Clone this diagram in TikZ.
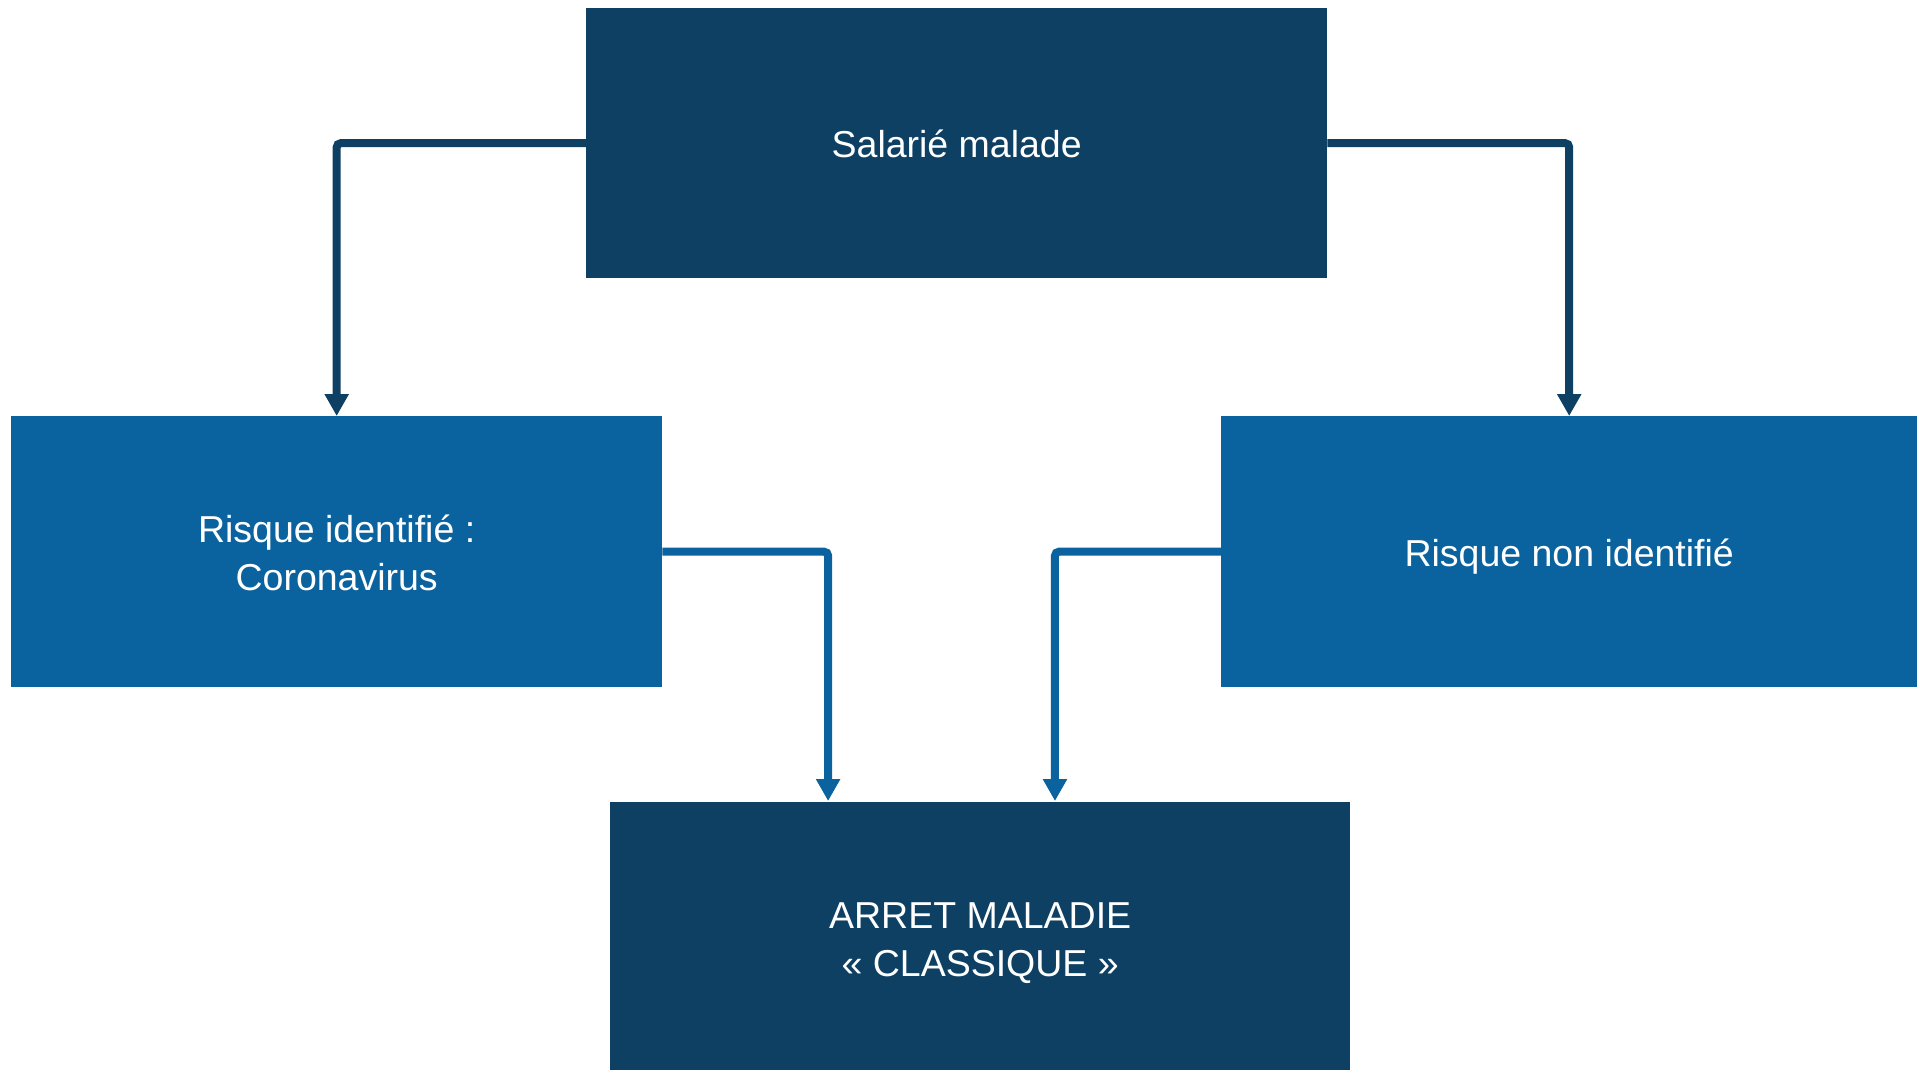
\documentclass[tikz,border=0pt]{standalone}
\usepackage{fontspec}
\setmainfont{Liberation Sans}
\usetikzlibrary{arrows.meta,calc}
\definecolor{navy}{RGB}{14,64,100}
\definecolor{midblue}{RGB}{10,99,158}
\tikzset{
  box/.style={rectangle, inner sep=0pt, anchor=north west},
  darkbox/.style={box, fill=navy},
  bluebox/.style={box, fill=midblue},
  boxtext/.style={text=white, align=center, inner sep=0pt, font=\fontsize{37.5}{48}\selectfont},
  conn/.style={line width=8pt, rounded corners=4pt, -{Triangle[width=23pt,length=22pt]}},
}
\begin{document}
\begin{tikzpicture}[x=1pt,y=-1pt]
\useasboundingbox (0,0) rectangle (1917,1070);
\node[darkbox, minimum width=741pt, minimum height=270pt,
  label={[boxtext, yshift=-1pt]center:Salarié malade}] (top) at (586,8) {};
\node[bluebox, minimum width=651pt, minimum height=271pt,
  label={[boxtext, yshift=-1pt]center:{Risque identifié :\\Coronavirus}}] (left) at (11,416) {};
\node[bluebox, minimum width=696pt, minimum height=271pt,
  label={[boxtext, yshift=-5pt]center:Risque non identifié}] (right) at (1221,416) {};
\node[darkbox, minimum width=740pt, minimum height=268pt,
  label={[boxtext, yshift=-7pt]center:{ARRET MALADIE\\« CLASSIQUE »}}] (bottom) at (610,802) {};
\coordinate (bin1) at ($(bottom.north west)!0.2946!(bottom.north east)$);
\coordinate (bin2) at ($(bottom.north west)!0.601!(bottom.north east)$);
\draw[conn, draw=navy] (top.west) -| (left.north);
\draw[conn, draw=navy] (top.east) -| (right.north);
\draw[conn, draw=midblue] (left.east) -| ([yshift=1pt]bin1);
\draw[conn, draw=midblue] (right.west) -| ([yshift=1pt]bin2);
\end{tikzpicture}
\end{document}
